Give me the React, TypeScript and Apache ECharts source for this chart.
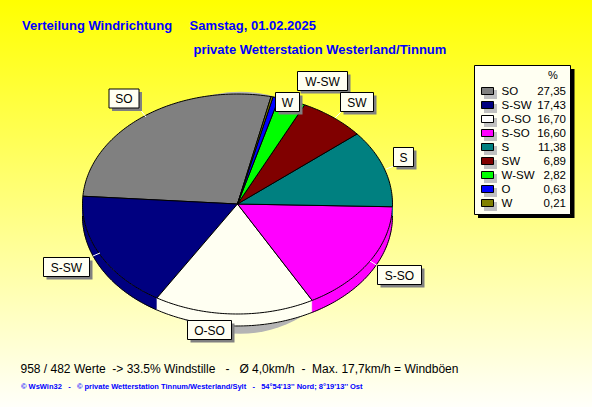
import React, { useEffect, useRef } from "react";
import * as echarts from "echarts";

const categories = ["SO", "S-SW", "O-SO", "S-SO", "S", "SW", "W-SW", "O", "W"];
const percentages = [27.35, 17.43, 16.7, 16.6, 11.38, 6.89, 2.82, 0.63, 0.21];
const percentLabels = ["27,35", "17,43", "16,70", "16,60", "11,38", "6,89", "2,82", "0,63", "0,21"];
const faceColors = ["#808080", "#000080", "#FFFFF2", "#FF00FF", "#008080", "#800000", "#00FF00", "#0000FF", "#808000"];
const swatchColors = ["#808080", "#000080", "#FFFFFF", "#FF00FF", "#008080", "#800000", "#00FF00", "#0000FF", "#808000"];

const WIDTH = 592;
const HEIGHT = 407;
const PIE = { cx: 237.5, cy: 204, rx: 155, ry: 110, depth: 12, start: 12.5 };
const FONT = "'Liberation Sans', Arial, sans-serif";
const IVORY = "#FFFFF2";

// label boxes: name, x, y, width, height
const labelBoxes: [string, number, number, number, number][] = [
  ["SO", 109, 89, 30, 19],
  ["W-SW", 297.5, 71.5, 50, 19],
  ["W", 275.5, 92.5, 24, 19],
  ["SW", 340.5, 92.5, 33, 19],
  ["S", 393.5, 147.5, 20, 19],
  ["S-SO", 377.5, 265.5, 44, 19],
  ["O-SO", 187.5, 320.5, 44, 19],
  ["S-SW", 43.5, 257.5, 46, 19],
];
const leaders: number[][] = [
  [139, 108, 146, 117],
  [335, 118, 341, 112],
  [386, 169, 394, 166],
  [370, 261, 378, 266],
  [93, 256, 100, 253],
];

function rim(deg: number, dy = 0): number[] {
  const t = (deg * Math.PI) / 180;
  return [PIE.cx + PIE.rx * Math.sin(t), PIE.cy + dy - PIE.ry * Math.cos(t)];
}
function arc(from: number, to: number, dy = 0): number[][] {
  const n = Math.max(1, Math.ceil(Math.abs(to - from)));
  const pts: number[][] = [];
  for (let i = 0; i <= n; i++) pts.push(rim(from + ((to - from) * i) / n, dy));
  return pts;
}

const total = percentages.reduce((a, b) => a + b, 0);
const spans: [number, number][] = [];
percentages.reduce((acc, v) => {
  const next = acc - (v / total) * 360;
  spans.push([acc, next]);
  return next;
}, PIE.start);

function renderSlice(params: any, api: any) {
  const i = params.dataIndex;
  const color = faceColors[i];
  const [a, b] = spans[i];
  const children: any[] = [];
  const hi = Math.min(a, -90);
  const lo = Math.max(b, -270);
  if (hi > lo) {
    const top = arc(hi, lo);
    const bottom = arc(hi, lo, PIE.depth);
    children.push({
      type: "polygon",
      shape: { points: [...top, ...bottom.slice().reverse()] },
      style: { fill: color, stroke: color, lineWidth: 0.5 },
    });
    children.push({
      type: "polyline",
      shape: { points: bottom },
      style: { fill: "none", stroke: "#000", lineWidth: 1 },
    });
  }
  children.push({
    type: "polygon",
    shape: { points: [[PIE.cx, PIE.cy], ...arc(a, b)] },
    style: { fill: api.visual("color"), stroke: "#000", lineWidth: 1 },
  });
  return { type: "group", children };
}

function buildGraphics(): any[] {
  const out: any[] = [];
  out.push({
    type: "ellipse", z: 0, silent: true,
    shape: { cx: 240, cy: 212.8, rx: 120, ry: 121 },
    style: { fill: "#B4B4B4" },
  });
  const text = (t: string, x: number, y: number, font: string, fill = "#000", align = "left", z = 20) => ({
    type: "text", z, silent: true, x, y,
    style: { text: t, font, fill, align, verticalAlign: "middle" },
  });
  const titleFont = `bold 13px ${FONT}`;
  out.push(text("Verteilung Windrichtung", 22, 25, titleFont, "#0000FF"));
  out.push(text("Samstag, 01.02.2025", 189.5, 25, titleFont, "#0000FF"));
  out.push(text("private Wetterstation Westerland/Tinnum", 193.5, 49.5, titleFont, "#0000FF"));

  leaders.forEach(([x1, y1, x2, y2]) =>
    out.push({ type: "line", z: 14, silent: true, shape: { x1, y1, x2, y2 }, style: { stroke: "#FFFFFF", lineWidth: 1 } })
  );
  labelBoxes.forEach(([name, x, y, w, h]) => {
    out.push({ type: "rect", z: 15, silent: true, shape: { x: x + 3, y: y + 3, width: w, height: h }, style: { fill: "#808080" } });
    out.push({ type: "rect", z: 16, silent: true, shape: { x, y, width: w, height: h }, style: { fill: IVORY, stroke: "#000", lineWidth: 1 } });
    out.push(text(name, x + w / 2, y + h / 2 + 0.5, `12px ${FONT}`, "#000", "center"));
  });

  // legend panel
  out.push({ type: "rect", z: 15, silent: true, shape: { x: 478, y: 69, width: 96.5, height: 149 }, style: { fill: "#000" } });
  out.push({ type: "rect", z: 16, silent: true, shape: { x: 474.5, y: 65.5, width: 96, height: 149 }, style: { fill: IVORY, stroke: "#000", lineWidth: 1 } });
  out.push(text("%", 553, 75, `11px ${FONT}`, "#000", "center"));
  categories.forEach((name, i) => {
    const y = 91 + i * 14;
    out.push({ type: "rect", z: 17, silent: true, shape: { x: 484, y: y - 1, width: 13, height: 9 }, style: { fill: "#C0C0C0" } });
    out.push({ type: "rect", z: 18, silent: true, shape: { x: 481.5, y: y - 3.5, width: 12, height: 7 }, style: { fill: swatchColors[i], stroke: "#000", lineWidth: 1 } });
    out.push(text(name, 501.5, y, `11.5px ${FONT}`));
    out.push(text(percentLabels[i], 566, y, `11.5px ${FONT}`, "#000", "right"));
  });

  out.push(text("958 / 482 Werte  -> 33.5% Windstille   -   Ø 4,0km/h  -  Max. 17,7km/h = Windböen", 20.5, 369, `12px ${FONT}`));
  out.push(text("© WsWin32   -   © private Wetterstation Tinnum/Westerland/Sylt   -   54°54'13'' Nord; 8°19'13'' Ost", 21, 386, `bold 7.5px ${FONT}`, "#0000FF"));
  return out;
}

export default function App() {
  const ref = useRef<HTMLDivElement>(null);
  useEffect(() => {
    if (!ref.current) return;
    const chart = echarts.init(ref.current, undefined, { renderer: "svg", width: WIDTH, height: HEIGHT });
    chart.setOption({
      animation: false,
      backgroundColor: {
        type: "linear", x: 0, y: 0, x2: 0, y2: 1,
        colorStops: [
          { offset: 0, color: "#FFFF00" },
          { offset: 1, color: "#FFFFFA" },
        ],
      },
      graphic: { elements: buildGraphics() },
      series: [
        {
          type: "custom",
          coordinateSystem: "none",
          z: 5,
          silent: true,
          renderItem: renderSlice,
          data: percentages.map((value, i) => ({ value: [value], name: categories[i], itemStyle: { color: faceColors[i] } })),
        },
      ],
    });
    return () => chart.dispose();
  }, []);
  return <div ref={ref} style={{ position: "absolute", left: 0, top: 0, width: WIDTH, height: HEIGHT }} />;
}
